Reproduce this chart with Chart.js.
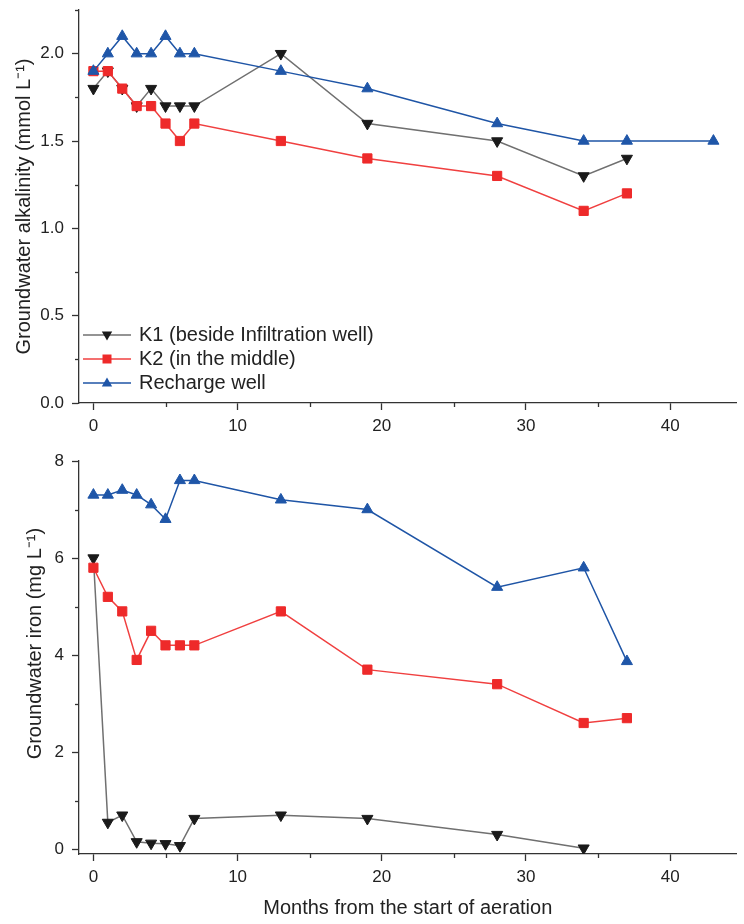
<!DOCTYPE html>
<html><head><meta charset="utf-8">
<script src="https://cdn.jsdelivr.net/npm/chart.js@4.4.1/dist/chart.umd.min.js"></script>
<style>
html,body{margin:0;padding:0;background:#fff;}
#wrap{position:relative;width:744px;height:924px;overflow:hidden;}
#c1{position:absolute;left:0;top:0;}
#c2{position:absolute;left:0;top:440px;}
</style></head><body>
<div id="wrap"><canvas id="c1" width="744" height="440"></canvas><canvas id="c2" width="744" height="484"></canvas></div>
<script>
// ---------- data ----------
const monthsAlk = [0,1,2,3,4,5,6,7,13,19,28,34,37];
const monthsRechargeAlk = [0,1,2,3,4,5,6,7,13,19,28,34,37,43];
const k1Alk = [1.8,1.9,1.8,1.7,1.8,1.7,1.7,1.7,2.0,1.6,1.5,1.3,1.4];
const k2Alk = [1.9,1.9,1.8,1.7,1.7,1.6,1.5,1.6,1.5,1.4,1.3,1.1,1.2];
const rechargeAlk = [1.9,2.0,2.1,2.0,2.0,2.1,2.0,2.0,1.9,1.8,1.6,1.5,1.5,1.5];

const monthsIron = [0,1,2,3,4,5,6,7,13,19,28,34,37];
const monthsK1Iron = [0,1,2,3,4,5,6,7,13,19,28,34];
const k1Iron = [6.0,0.55,0.7,0.15,0.12,0.11,0.07,0.63,0.7,0.63,0.3,0.02];
const k2Iron = [5.8,5.2,4.9,3.9,4.5,4.2,4.2,4.2,4.9,3.7,3.4,2.6,2.7];
const rechargeIron = [7.3,7.3,7.4,7.3,7.1,6.8,7.6,7.6,7.2,7.0,5.4,5.8,3.87];

const xTicks = [0,10,20,30,40];
const alkTicks = [0,0.5,1.0,1.5,2.0];
const ironTicks = [0,2,4,6,8];
const seriesNames = ['K1 (beside Infiltration well)','K2 (in the middle)','Recharge well'];
const xTitle = 'Months from the start of aeration';
const alkTitle = 'Groundwater alkalinity (mmol L\u207B\u00B9)';
const ironTitle = '     Groundwater iron (mg L\u207B\u00B9)';

// ---------- styles ----------
const FONT = "'Liberation Sans', Arial, Helvetica, sans-serif";
const AXIS = '#333333';
const TEXT = '#222222';
const styles = [
  {line:'#707070', fill:'#1a1a1a', shape:'triangle', rot:180, r:6.4, order:3},
  {line:'#f04040', fill:'#ee2a2a', shape:'rect', rot:0, r:6.5, order:2},
  {line:'#1f55a6', fill:'#1f56a8', shape:'triangle', rot:0, r:6.4, order:1}
];

function pts(xs, ys){ return xs.map((x,i)=>({x:x, y:ys[i]})); }

function ds(i, xs, ys){
  const s = styles[i];
  return {
    label: seriesNames[i], data: pts(xs, ys), order: s.order,
    borderColor: s.line, borderWidth: 1.5, tension: 0,
    pointStyle: s.shape, pointRotation: s.rot, pointRadius: s.r, pointHoverRadius: s.r,
    pointBackgroundColor: s.fill, pointBorderColor: s.fill, pointBorderWidth: 1
  };
}

function makeIcon(i){
  const s = styles[i];
  const c = document.createElement('canvas'); c.width = 48; c.height = 16;
  const g = c.getContext('2d');
  g.strokeStyle = s.line; g.lineWidth = 1.5;
  g.beginPath(); g.moveTo(0,8); g.lineTo(48,8); g.stroke();
  g.fillStyle = s.fill; g.beginPath();
  if (s.shape === 'rect') { g.rect(19.5,3.5,9,9); }
  else if (s.rot === 180) { g.moveTo(18.8,4.5); g.lineTo(29.2,4.5); g.lineTo(24,13.5); g.closePath(); }
  else { g.moveTo(24,2.5); g.lineTo(29.2,11.5); g.lineTo(18.8,11.5); g.closePath(); }
  g.fill();
  return c;
}
const icons = [makeIcon(0), makeIcon(1), makeIcon(2)];

function minorValues(min, max, step){
  const out = [];
  for (let v = Math.ceil(min/step)*step; v <= max + 1e-9; v += step) {
    const k = Math.round(v/step);
    if (k % 2 !== 0) out.push(+v.toFixed(4));
  }
  return out;
}

const minorTicks = {
  id: 'minorTicks',
  afterDraw(chart){
    const m = chart.$minor; if (!m) return;
    const ctx = chart.ctx, xs = chart.scales.x, ys = chart.scales.y;
    ctx.save(); ctx.strokeStyle = AXIS; ctx.lineWidth = 1.3;
    m.x.forEach(v => { const p = Math.round(xs.getPixelForValue(v)) + 0.5; ctx.beginPath(); ctx.moveTo(p, xs.top); ctx.lineTo(p, xs.top + 4); ctx.stroke(); });
    m.y.forEach(v => { const p = Math.round(ys.getPixelForValue(v)) + 0.5; ctx.beginPath(); ctx.moveTo(ys.right, p); ctx.lineTo(ys.right - 4, p); ctx.stroke(); });
    ctx.restore();
  }
};

const legendPlacer = {
  id: 'legendPlacer',
  beforeDraw(chart){
    const lg = chart.legend;
    if (!lg || !chart.options.plugins.legend.display) return;
    const ca = chart.chartArea;
    lg.left = ca.left + 2; lg.right = ca.right;
    lg.top = ca.bottom - 82; lg.bottom = ca.bottom;
    lg.width = lg.right - lg.left; lg.height = lg.bottom - lg.top;
  }
};

function makeChart(canvas, cfg){
  const chart = new Chart(canvas, {
    type: 'line',
    data: { datasets: cfg.datasets },
    plugins: [minorTicks, legendPlacer],
    options: {
      responsive: false, animation: false, devicePixelRatio: 1,
      layout: { padding: { top: cfg.padTop, right: 1, left: 0, bottom: 0 } },
      plugins: {
        tooltip: { enabled: false },
        legend: {
          display: cfg.legend, position: 'chartArea', align: 'start',
          labels: {
            usePointStyle: true, pointStyleWidth: 44, padding: 4,
            font: { family: FONT, size: 20 }, color: TEXT,
            sort: (a,b) => a.datasetIndex - b.datasetIndex,
            generateLabels: (ch) => {
              const items = Chart.defaults.plugins.legend.labels.generateLabels(ch);
              items.forEach(it => { it.pointStyle = icons[it.datasetIndex]; it.rotation = 0; });
              return items;
            }
          }
        }
      },
      scales: {
        x: {
          type: 'linear', min: -1, max: 44.6,
          afterBuildTicks: s => { s.ticks = xTicks.map(v => ({value: v})); },
          afterFit: s => { s.height = cfg.xHeight; s.paddingLeft = 0; s.paddingRight = 0; },
          grid: { drawOnChartArea: false, drawTicks: true, tickLength: 7, tickWidth: 1.3, tickColor: AXIS },
          border: { display: true, color: AXIS, width: 1.3 },
          ticks: { font: { family: FONT, size: 17 }, color: TEXT, padding: 6, maxRotation: 0, autoSkip: false },
          title: { display: cfg.xTitle, text: xTitle, font: { family: FONT, size: 20 }, color: TEXT, padding: { top: 0, bottom: 4 } }
        },
        y: {
          type: 'linear', min: cfg.yMin, max: cfg.yMax,
          afterBuildTicks: s => { s.ticks = cfg.yTicks.map(v => ({value: v})); },
          afterFit: s => { s.width = 79; s.paddingTop = 0; s.paddingBottom = 0; },
          grid: { drawOnChartArea: false, drawTicks: true, tickLength: 7, tickWidth: 1.3, tickColor: AXIS },
          border: { display: true, color: AXIS, width: 1.3 },
          ticks: { font: { family: FONT, size: 17 }, color: TEXT, padding: 8, autoSkip: false, callback: v => Number(v).toFixed(cfg.decimals) },
          title: { display: true, text: cfg.yTitle, font: { family: FONT, size: 20 }, color: TEXT, padding: { top: cfg.yTitlePad, bottom: 0 } }
        }
      }
    }
  });
  chart.$minor = { x: minorValues(-1, 44.6, 5), y: minorValues(cfg.yMin, cfg.yMax, cfg.yMinorStep) };
  chart.draw();
  return chart;
}

makeChart(document.getElementById('c1'), {
  datasets: [ds(0, monthsAlk, k1Alk), ds(1, monthsAlk, k2Alk), ds(2, monthsRechargeAlk, rechargeAlk)],
  yMin: 0, yMax: 2.25, yTicks: alkTicks, yMinorStep: 0.25, decimals: 1,
  yTitle: alkTitle, yTitlePad: 12, padTop: 10, xHeight: 37, legend: true, xTitle: false
});
makeChart(document.getElementById('c2'), {
  datasets: [ds(0, monthsK1Iron, k1Iron), ds(1, monthsIron, k2Iron), ds(2, monthsIron, rechargeIron)],
  yMin: -0.1, yMax: 8, yTicks: ironTicks, yMinorStep: 1, decimals: 0,
  yTitle: ironTitle, yTitlePad: 23, padTop: 21, xHeight: 70, legend: false, xTitle: true
});
</script>
</body></html>
